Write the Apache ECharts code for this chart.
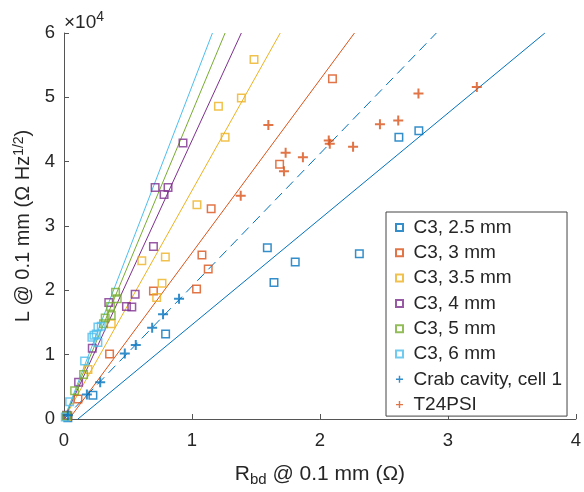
<!DOCTYPE html>
<html>
<head>
<meta charset="utf-8">
<script src="https://cdn.jsdelivr.net/npm/echarts@6/dist/echarts.min.js"></script>
<style>html,body{margin:0;padding:0;background:#fff}#c{width:584px;height:492px}</style>
</head>
<body>
<div id="c"></div>
<script>
// ---- data: [R_bd (Ohm), L (Ohm Hz^1/2)] ----
const seriesNames = ['C3, 2.5 mm','C3, 3 mm','C3, 3.5 mm','C3, 4 mm','C3, 5 mm','C3, 6 mm','Crab cavity, cell 1','T24PSI'];
const c25 = [[0.03,200],[0.226,3700],[0.794,13200],[1.589,26600],[1.641,21200],[1.807,24400],[2.308,25700],[2.617,43800],[2.773,44800]];
const c30 = [[0.03,500],[0.109,3100],[0.356,10100],[0.699,19900],[1.036,20200],[1.078,25500],[1.127,23300],[1.150,32700],[1.685,39600],[2.098,52900]];
const c35 = [[0.02,400],[0.187,7700],[0.369,14800],[0.608,24600],[0.724,18900],[0.766,21100],[0.792,25200],[1.039,33300],[1.207,48600],[1.259,43800],[1.386,49900],[1.485,55900]];
const c40 = [[0.02,600],[0.114,5700],[0.221,11000],[0.350,18100],[0.488,17500],[0.530,17400],[0.556,19400],[0.699,26800],[0.712,36000],[0.782,34900],[0.813,36000],[0.930,42900]];
const c50 = [[0.02,500],[0.083,4400],[0.153,6900],[0.309,14800],[0.322,15700],[0.369,16100],[0.364,17500],[0.403,19700],[0.416,18700]];
const c60 = [[0.01,300],[0.044,2700],[0.161,9000],[0.218,12700],[0.234,13000],[0.252,13200],[0.265,11900],[0.265,14300],[0.291,14400]];
const crab = [[0.03,600],[0.179,3800],[0.283,5700],[0.475,10200],[0.561,11500],[0.689,14200],[0.774,16300],[0.899,18700]];
const t24 = [[1.381,34700],[1.597,45700],[1.719,38500],[1.732,41400],[1.867,40700],[2.069,43300],[2.077,42800],[2.259,42300],[2.469,45800],[2.612,46400],[2.770,50600],[3.226,51600]];
// fit lines (two end points each)
const fit25 = [[0.109,0],[3.758,60000]];
const fit30 = [[0.04,0],[2.27,60000]];
const fit35 = [[0,0],[1.69,60000]];
const fit40 = [[0,0],[1.386,60000]];
const fit50 = [[0,0],[1.259,60000]];
const fit60 = [[0,0],[1.16,60000]];
const fitCrab = [[0,0],[2.91,60000]];
const xTicks = [0,1,2,3,4];
const yTicks = [0,1,2,3,4,5,6];

const colors = ['#0072BD','#D95319','#EDB120','#7E2F8E','#77AC30','#4DBEEE'];
const FONT = "'Liberation Sans', Arial, Helvetica, sans-serif";
const TXT = '#262626';
const PLUS = 'path://M4,0H6V4H10V6H6V10H4V6H0V4H4Z';
const SQUARE = 'path://M0,0H10V10H0Z';

const chart = echarts.init(document.getElementById('c'));
const squareSets = [c25,c30,c35,c40,c50,c60];
const fits = [fit25,fit30,fit35,fit40,fit50,fit60];
const series = [];
fits.forEach((f,i)=>{
  series.push({type:'line', name:'fit'+i, data:f, showSymbol:false, symbol:'none', silent:true,
    lineStyle:{color:colors[i], width:1}, z:1, animation:false});
});
series.push({type:'line', name:'fitCrab', data:fitCrab, showSymbol:false, symbol:'none', silent:true,
  lineStyle:{color:colors[0], width:1, type:[10,6]}, z:1, animation:false});
squareSets.forEach((d,i)=>{
  series.push({type:'scatter', name:seriesNames[i], data:d, symbol:SQUARE, symbolSize:7.5,
    itemStyle:{color:'rgba(255,255,255,0)', borderColor:colors[i], borderWidth:1.5}, z:3, animation:false});
});
series.push({type:'scatter', name:seriesNames[6], data:crab, symbol:PLUS, symbolSize:10,
  itemStyle:{color:colors[0]}, z:3, animation:false});
series.push({type:'scatter', name:seriesNames[7], data:t24, symbol:PLUS, symbolSize:10,
  itemStyle:{color:colors[1]}, z:3, animation:false});

chart.setOption({
  animation:false,
  textStyle:{fontFamily:FONT, color:TXT},
  grid:{left:64, right:7, top:33, bottom:68},
  xAxis:{type:'value', min:xTicks[0], max:xTicks[xTicks.length-1], interval:1,
    axisLine:{lineStyle:{color:'#555', width:1}},
    axisTick:{inside:true, length:5, lineStyle:{color:'#555'}},
    splitLine:{show:false},
    axisLabel:{fontSize:18.5, color:TXT, margin:12, fontFamily:FONT},
    name:'{n|R}{b|bd}{n| @ 0.1 mm (Ω)}', nameLocation:'middle', nameGap:42,
    nameTextStyle:{fontFamily:FONT, color:TXT,
      rich:{n:{fontSize:21, fontFamily:FONT, color:TXT}, b:{fontSize:15, fontFamily:FONT, color:TXT, padding:[11,0,0,0]}}}
  },
  yAxis:{type:'value', min:0, max:60000, interval:10000,
    axisLine:{show:true, lineStyle:{color:'#555', width:1}},
    axisTick:{show:true, inside:true, length:5, lineStyle:{color:'#555'}},
    splitLine:{show:false},
    axisLabel:{fontSize:18.5, color:TXT, margin:9, fontFamily:FONT, formatter:v=>String(v/10000)},
    name:'{n|L @ 0.1 mm (Ω Hz}{s|1/2}{n|)}', nameLocation:'middle', nameGap:22,
    nameTextStyle:{fontFamily:FONT, color:TXT,
      rich:{n:{fontSize:20, fontFamily:FONT, color:TXT}, s:{fontSize:14, fontFamily:FONT, color:TXT, padding:[0,0,10,0]}}}
  },
  legend:{orient:'vertical', left:386, top:212,
    data:seriesNames, itemWidth:18, itemHeight:7, itemGap:6.3,
    backgroundColor:'#fff', borderColor:'#444', borderWidth:1, borderRadius:0,
    padding:[6,5,2,9],
    textStyle:{fontSize:19, fontFamily:FONT, color:TXT, lineHeight:19},
    selectedMode:false},
  graphic:[{type:'text', left:64, top:10, z:10,
    style:{text:'{a|×10}{s|4}', rich:{a:{fontSize:19, fontFamily:FONT, fill:TXT, color:TXT}, s:{fontSize:14, fontFamily:FONT, fill:TXT, color:TXT, padding:[0,0,11,0]}}}}],
  series:series
});
</script>
</body>
</html>
